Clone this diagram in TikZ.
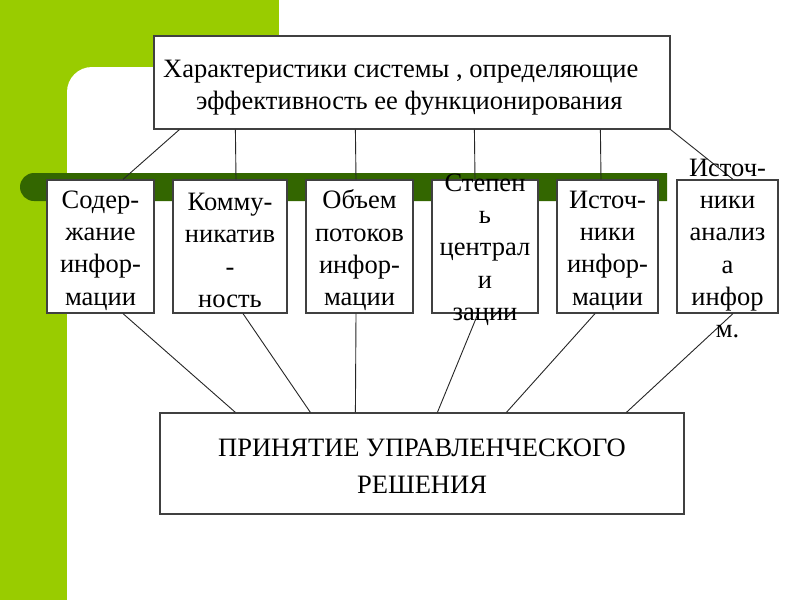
\documentclass[tikz,border=0pt]{standalone}
\usepackage{fontspec}
\setmainfont{Liberation Serif}[Scale=1.02]
\usetikzlibrary{calc}
\definecolor{lgreen}{HTML}{99CC00}
\definecolor{dgreen}{HTML}{336600}
\definecolor{boxline}{HTML}{404040}
\tikzset{
  box/.style={draw=boxline, line width=1.2pt, fill=white, inner sep=0pt, anchor=center},
  txt/.style={align=center, inner sep=0pt, font=\fontsize{26}{32.3}\selectfont, text=black},
  conn/.style={draw=black!85, line width=0.9pt}
}
\begin{document}
\begin{tikzpicture}[x=1pt,y=-1pt]
\useasboundingbox (0,0) rectangle (800,600);
% background
\fill[white] (0,0) rectangle (800,600);
\fill[lgreen] (0,0) rectangle (279,600);
\fill[white] (67,600) [rounded corners=25pt]-- (67,67) [sharp corners]-- (279,67) -- (279,600) -- cycle;
% dark bar
\fill[dgreen] (667,173) -- (667,201) [rounded corners=14pt]-- (20,201) -- (20,173) [sharp corners]-- cycle;
% boxes
\node[box, minimum width=516pt, minimum height=93pt] (top) at (412,82.5) {};
\node[box, minimum width=107pt, minimum height=133pt] (b1) at (100.5,246.5) {};
\node[box, minimum width=114pt, minimum height=133pt] (b2) at (230,246.5) {};
\node[box, minimum width=107pt, minimum height=133pt] (b3) at (359.5,246.5) {};
\node[box, minimum width=106pt, minimum height=133pt] (b4) at (485,246.5) {};
\node[box, minimum width=101pt, minimum height=133pt] (b5) at (607.5,246.5) {};
\node[box, minimum width=101pt, minimum height=133pt] (b6) at (727.5,246.5) {};
\node[box, minimum width=524pt, minimum height=101pt] (bot) at (422,463.5) {};
% connectors top
\draw[conn] ([xshift=26pt]top.south west) -- ([xshift=22.5pt]b1.north);
\draw[conn] ([xshift=82pt]top.south west) -- ([xshift=6pt]b2.north);
\draw[conn] ([xshift=202pt]top.south west) -- ([xshift=-3.5pt]b3.north);
\draw[conn] ([xshift=321pt]top.south west) -- ([xshift=-10pt]b4.north);
\draw[conn] ([xshift=447pt]top.south west) -- ([xshift=-6.5pt]b5.north);
\draw[conn] (top.south east) -- ([xshift=5.5pt]b6.north);
% connectors bottom
\draw[conn] ([xshift=22.5pt]b1.south) -- ([xshift=76pt]bot.north west);
\draw[conn] ([xshift=13pt]b2.south) -- ([xshift=151pt]bot.north west);
\draw[conn] ([xshift=-3.5pt]b3.south) -- ([xshift=196pt]bot.north west);
\draw[conn] ([xshift=-7pt]b4.south) -- ([xshift=278pt]bot.north west);
\draw[conn] ([xshift=-12.5pt]b5.south) -- ([xshift=347pt]bot.north west);
\draw[conn] ([xshift=5.5pt]b6.south) -- ([xshift=467pt]bot.north west);
% texts
\node[txt, align=left, anchor=west] (ttop) at (163,88) {Характеристики системы , определяющие\\\hspace*{33pt}эффективность ее функционирования};
\node[txt] (t1) at ([yshift=-4pt]b1.center) {Содер-\\жание\\инфор-\\мации};
\node[txt] (t2) at ([yshift=-4pt]b2.center) {Комму-\\никатив\\-\\ность};
\node[txt] (t3) at ([yshift=-4pt]b3.center) {Объем\\потоков\\инфор-\\мации};
\node[txt] (t4) at ([yshift=-3pt]b4.center) {Степен\\ь\\централ\\и\\зации};
\node[txt] (t5) at ([yshift=-4pt]b5.center) {Источ-\\ники\\инфор-\\мации};
\node[txt] (t6) at ([yshift=-2pt]b6.center) {Источ-\\ники\\анализ\\а\\инфор\\м.};
\node[txt, font=\fontsize{26}{37}\selectfont] (tbot) at (422,466.5) {ПРИНЯТИЕ УПРАВЛЕНЧЕСКОГО\\РЕШЕНИЯ};
\end{tikzpicture}
\end{document}
